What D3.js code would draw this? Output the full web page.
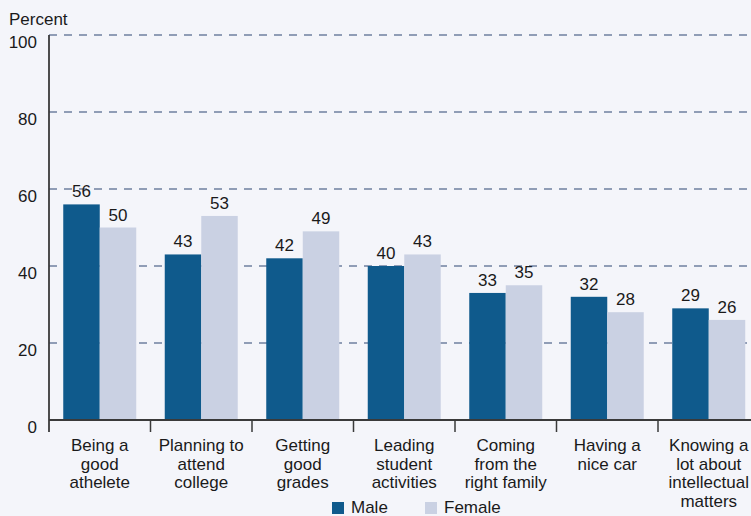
<!DOCTYPE html>
<html><head><meta charset="utf-8">
<script src="https://cdn.jsdelivr.net/npm/d3@7/dist/d3.min.js"></script>
<style>
html,body{margin:0;padding:0;background:#f4f5fa;}
svg{display:block;font-family:"Liberation Sans",Arial,sans-serif;}
</style></head>
<body>
<svg id="chart" width="751" height="516"></svg>
<script>
const categories = [
  ["Being a","good","athelete"],
  ["Planning to","attend","college"],
  ["Getting","good","grades"],
  ["Leading","student","activities"],
  ["Coming","from the","right family"],
  ["Having a","nice car"],
  ["Knowing a","lot about","intellectual","matters"]
];
const male = [56, 43, 42, 40, 33, 32, 29];
const female = [50, 53, 49, 43, 35, 28, 26];
const yTicks = [0, 20, 40, 60, 80, 100];
const seriesNames = ["Male", "Female"];
const colors = ["#0f5a8c", "#cad1e3"];

const svg = d3.select("#chart");
const W = 751, H = 516;
svg.append("rect").attr("width", W).attr("height", H).attr("fill", "#f4f5fa");

const x0 = 49, bandW = 101.5;
const ids = categories.map((c, i) => i);
const x = d3.scaleBand().domain(ids).range([x0, x0 + bandW * categories.length]).padding(0);
const y = d3.scaleLinear().domain([0, 100]).range([420, 35]);
const barW = 36.5;

// gridlines
svg.append("g").selectAll("line").data(yTicks.filter(t => t > 0)).join("line")
  .attr("x1", x0).attr("x2", W)
  .attr("y1", d => y(d)).attr("y2", d => y(d))
  .attr("stroke", "#6f80a0").attr("stroke-width", 1.3)
  .attr("stroke-dasharray", "8,7");

// y labels
svg.append("g").selectAll("text").data(yTicks).join("text")
  .attr("x", 37).attr("y", d => y(d) + 13)
  .attr("text-anchor", "end").attr("font-size", 17).attr("fill", "#1a1a1a")
  .text(d => d);

svg.append("text").attr("x", 9).attr("y", 25).attr("font-size", 17).attr("fill", "#1a1a1a").text("Percent");

// bars
const groups = svg.append("g").selectAll("g").data(ids).join("g");
groups.append("rect")
  .attr("x", i => x(i) + x.bandwidth() / 2 - barW)
  .attr("y", i => y(male[i]))
  .attr("width", barW)
  .attr("height", i => y(0) - y(male[i]))
  .attr("fill", colors[0]);
groups.append("rect")
  .attr("x", i => x(i) + x.bandwidth() / 2)
  .attr("y", i => y(female[i]))
  .attr("width", barW)
  .attr("height", i => y(0) - y(female[i]))
  .attr("fill", colors[1]);
groups.append("text")
  .attr("x", i => x(i) + x.bandwidth() / 2 - barW / 2)
  .attr("y", i => y(male[i]) - 7)
  .attr("text-anchor", "middle").attr("font-size", 17).attr("fill", "#1a1a1a")
  .text(i => male[i]);
groups.append("text")
  .attr("x", i => x(i) + x.bandwidth() / 2 + barW / 2)
  .attr("y", i => y(female[i]) - 7)
  .attr("text-anchor", "middle").attr("font-size", 17).attr("fill", "#1a1a1a")
  .text(i => female[i]);

// axes lines
svg.append("line").attr("x1", x0).attr("x2", x0).attr("y1", y(100)).attr("y2", 432)
  .attr("stroke", "#3a3a3a").attr("stroke-width", 1.8);
svg.append("line").attr("x1", x0).attr("x2", W).attr("y1", y(0)).attr("y2", y(0))
  .attr("stroke", "#3a3a3a").attr("stroke-width", 2);
svg.append("g").selectAll("line").data(ids.slice(1)).join("line")
  .attr("x1", i => x(i)).attr("x2", i => x(i))
  .attr("y1", y(0)).attr("y2", 432)
  .attr("stroke", "#3a3a3a").attr("stroke-width", 1.5);

// category labels
const lab = svg.append("g").selectAll("text").data(ids).join("text")
  .attr("text-anchor", "middle").attr("font-size", 17).attr("fill", "#1a1a1a");
lab.selectAll("tspan").data(i => categories[i].map(t => ({t, i}))).join("tspan")
  .attr("x", d => x(d.i) + x.bandwidth() / 2)
  .attr("y", (d, k) => 451 + k * 18.5)
  .text(d => d.t);

// legend
const legX = [332, 425];
seriesNames.forEach((n, k) => {
  svg.append("rect").attr("x", legX[k]).attr("y", 502).attr("width", 12).attr("height", 12).attr("fill", colors[k]);
  svg.append("text").attr("x", legX[k] + 19).attr("y", 513).attr("font-size", 17).attr("fill", "#1a1a1a").text(n);
});
</script>
</body></html>
